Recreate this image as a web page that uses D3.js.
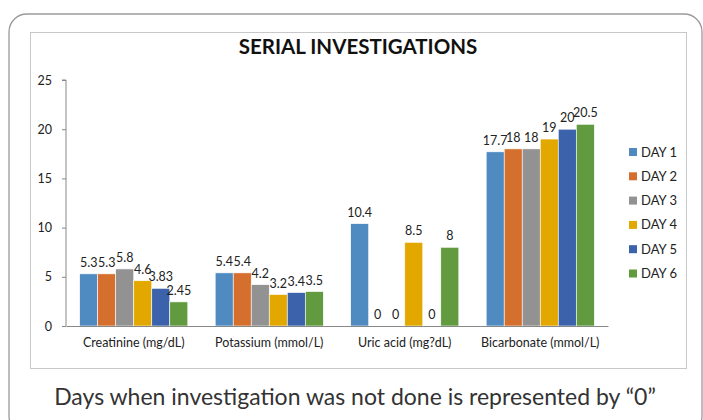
<!DOCTYPE html>
<html>
<head>
<meta charset="utf-8">
<script src="https://cdn.jsdelivr.net/npm/d3@7"></script>
<style>
  body { margin: 0; background: #fff; }
  text { font-family: Lato, "Open Sans", sans-serif; }
</style>
</head>
<body>
<svg id="chart" width="703" height="420"></svg>
<script>
const categories = ["Creatinine (mg/dL)", "Potassium (mmol/L)", "Uric acid (mg?dL)", "Bicarbonate (mmol/L)"];
const seriesNames = ["DAY 1", "DAY 2", "DAY 3", "DAY 4", "DAY 5", "DAY 6"];
const day1 = [5.3, 5.4, 10.4, 17.7];
const day2 = [5.3, 5.4, 0, 18];
const day3 = [5.8, 4.2, 0, 18];
const day4 = [4.6, 3.2, 8.5, 19];
const day5 = [3.83, 3.4, 0, 20];
const day6 = [2.45, 3.5, 8, 20.5];
const seriesValues = [day1, day2, day3, day4, day5, day6];
const seriesColors = ["#4f8ac0", "#d46f2d", "#929292", "#e3a800", "#3b62aa", "#629a3f"];
const yTicks = [0, 5, 10, 15, 20, 25];
const titleText = "SERIAL INVESTIGATIONS";
const captionText = "Days when investigation was not done is represented by \u201C0\u201D";

const svg = d3.select("#chart");

// outer rounded frame
svg.append("rect").attr("x", 9).attr("y", 14).attr("width", 693).attr("height", 420)
  .attr("rx", 18).attr("fill", "none").attr("stroke", "#9a9a9a").attr("stroke-width", 1.3);
// inner chart frame
svg.append("rect").attr("x", 30.5).attr("y", 32.5).attr("width", 656).attr("height", 336)
  .attr("fill", "#fff").attr("stroke", "#c8c8c8").attr("stroke-width", 1);

const plot = { left: 66, right: 608, top: 80, bottom: 326 };
const fs = 12.5;

const y = d3.scaleLinear().domain([0, 25]).range([plot.bottom, plot.top]);
const x0 = d3.scaleBand().domain(categories).range([plot.left, plot.right]).padding(0);
const x1 = d3.scaleBand().domain(seriesNames).range([0, x0.bandwidth()]).paddingInner(0).paddingOuter(0.76);

// title
svg.append("text").attr("x", 358).attr("y", 54).attr("text-anchor", "middle")
  .attr("font-size", 20.5).attr("font-weight", "bold").attr("fill", "#111").text(titleText);

// y axis
const yAxis = svg.append("g").attr("transform", `translate(${plot.left},0)`)
  .call(d3.axisLeft(y).tickValues(yTicks).tickSize(4).tickPadding(10));
yAxis.select(".domain").attr("stroke", "#888").attr("d", `M-4,${plot.top}H0V${plot.bottom}`);
yAxis.selectAll(".tick line").attr("stroke", "#888");
yAxis.selectAll(".tick text").attr("font-size", fs).attr("fill", "#222")
  .attr("font-family", "Lato, sans-serif");

// bars
const groups = svg.append("g").selectAll("g").data(categories).join("g")
  .attr("transform", d => `translate(${x0(d)},0)`);

seriesNames.forEach((s, si) => {
  groups.append("rect")
    .attr("x", x1(s)).attr("width", x1.bandwidth())
    .attr("y", (d, ci) => y(seriesValues[si][ci]))
    .attr("height", (d, ci) => plot.bottom - y(seriesValues[si][ci]))
    .attr("fill", seriesColors[si])
    .attr("stroke", "#fff").attr("stroke-width", 0.6);
});

// x axis
const xAxis = svg.append("g").attr("transform", `translate(0,${plot.bottom})`)
  .call(d3.axisBottom(x0).tickSize(0).tickPadding(12));
xAxis.select(".domain").attr("stroke", "#888");
xAxis.selectAll(".tick text").attr("font-size", fs).attr("fill", "#222")
  .attr("font-family", "Lato, sans-serif");

// data labels
seriesNames.forEach((s, si) => {
  groups.append("text")
    .attr("x", x1(s) + x1.bandwidth() / 2)
    .attr("y", (d, ci) => y(seriesValues[si][ci]) - 7)
    .attr("text-anchor", "middle").attr("font-size", fs).attr("fill", "#222")
    .text((d, ci) => seriesValues[si][ci]);
});

// legend
const legend = svg.append("g").selectAll("g").data(seriesNames).join("g")
  .attr("transform", (d, i) => `translate(629,${152 + i * 24.3})`);
legend.append("rect").attr("x", 0).attr("y", -4).attr("width", 8).attr("height", 8)
  .attr("fill", (d, i) => seriesColors[i]);
legend.append("text").attr("x", 12).attr("y", 4.5).attr("font-size", 13).attr("fill", "#222").text(d => d);

// caption
svg.append("text").attr("x", 355).attr("y", 405).attr("text-anchor", "middle")
  .attr("font-size", 23).attr("fill", "#333").text(captionText);
</script>
</body>
</html>
